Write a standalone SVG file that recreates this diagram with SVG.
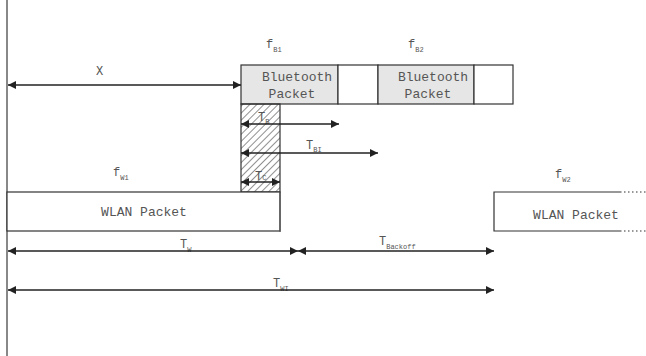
<svg xmlns="http://www.w3.org/2000/svg" width="646" height="356" viewBox="0 0 646 356">
<defs>
<marker id="ah" viewBox="0 0 10 10" refX="10" refY="5" markerWidth="9" markerHeight="8" markerUnits="userSpaceOnUse" orient="auto-start-reverse">
<path d="M0,0 L10,5 L0,10 z" fill="#222"/>
</marker>
<pattern id="hatch" patternUnits="userSpaceOnUse" width="5" height="5" patternTransform="rotate(45)">
<line x1="0" y1="0" x2="0" y2="5" stroke="#222" stroke-width="1"/>
</pattern>
<style>
.box{stroke:#333;stroke-width:1.2}
.arr{stroke:#222;stroke-width:1.4;fill:none}
.lbl{font-family:"Liberation Mono","Courier New",monospace;font-size:13px;fill:#555}
.t{font-family:"Liberation Mono","Courier New",monospace;font-size:12px;fill:#555}
.sub{font-size:7px}
</style>
</defs>
<rect width="646" height="356" fill="#fff"/>
<line x1="7" y1="0" x2="7" y2="356" stroke="#888" stroke-width="2"/>

<g id="bt1">
<rect class="box" x="241" y="65" width="97" height="39" fill="#e6e6e6"/>
<text class="lbl" x="297" y="81" text-anchor="middle">Bluetooth</text>
<text class="lbl" x="292" y="98" text-anchor="middle">Packet</text>
</g>
<g id="gap1"><rect class="box" x="338" y="65" width="40" height="39" fill="#fff"/></g>
<g id="bt2">
<rect class="box" x="378" y="65" width="96" height="39" fill="#e6e6e6"/>
<text class="lbl" x="433" y="81" text-anchor="middle">Bluetooth</text>
<text class="lbl" x="428" y="98" text-anchor="middle">Packet</text>
</g>
<g id="gap2"><rect class="box" x="474" y="65" width="39" height="39" fill="#fff"/></g>

<g id="overlap">
<rect x="241" y="104" width="39" height="88" fill="url(#hatch)" stroke="#333" stroke-width="1.2"/>
</g>

<g id="wlan1">
<rect class="box" x="7" y="192" width="273" height="39" fill="#fff"/>
<text class="lbl" x="144" y="216" text-anchor="middle">WLAN Packet</text>
</g>
<line x1="280" y1="192" x2="280" y2="232" stroke="#555" stroke-width="1.2"/>

<g id="wlan2">
<path d="M620,192 L494,192 L494,231 L620,231" fill="none" stroke="#333" stroke-width="1.2"/>
<path d="M620,192 H646 M620,231 H646" stroke="#333" stroke-width="1.2" stroke-dasharray="1.5,2.5"/>
<text class="lbl" x="576" y="219" text-anchor="middle">WLAN Packet</text>
</g>

<g id="labels">
<text class="t" x="96" y="75">X</text>
<text class="t" x="266" y="48">f<tspan class="sub" dy="4">B1</tspan></text>
<text class="t" x="408" y="48">f<tspan class="sub" dy="4">B2</tspan></text>
<text class="t" x="113" y="176">f<tspan class="sub" dy="4">W1</tspan></text>
<text class="t" x="555" y="178">f<tspan class="sub" dy="4">W2</tspan></text>
<text class="t" x="258" y="121">T<tspan class="sub" dy="3">B</tspan></text>
<text class="t" x="306" y="149">T<tspan class="sub" dy="3">BI</tspan></text>
<text class="t" x="255" y="180">T<tspan class="sub" dy="0" font-size="10">C</tspan></text>
<text class="t" x="180" y="248">T<tspan class="sub" dy="4">W</tspan></text>
<text class="t" x="379" y="245">T<tspan class="sub" dy="4">Backoff</tspan></text>
<text class="t" x="273" y="287">T<tspan class="sub" dy="4">WI</tspan></text>
</g>

<g id="connectors">
<line class="arr" x1="8" y1="85" x2="241" y2="85" marker-start="url(#ah)" marker-end="url(#ah)"/>
<line class="arr" x1="241" y1="124" x2="339" y2="124" marker-start="url(#ah)" marker-end="url(#ah)"/>
<line class="arr" x1="241" y1="153" x2="378" y2="153" marker-start="url(#ah)" marker-end="url(#ah)"/>
<line class="arr" x1="241" y1="182" x2="280" y2="182" marker-start="url(#ah)" marker-end="url(#ah)"/>
<line class="arr" x1="8" y1="251" x2="298" y2="251" marker-start="url(#ah)" marker-end="url(#ah)"/>
<line class="arr" x1="298" y1="251" x2="494" y2="251" marker-start="url(#ah)" marker-end="url(#ah)"/>
<line class="arr" x1="8" y1="290" x2="494" y2="290" marker-start="url(#ah)" marker-end="url(#ah)"/>
</g>
</svg>
